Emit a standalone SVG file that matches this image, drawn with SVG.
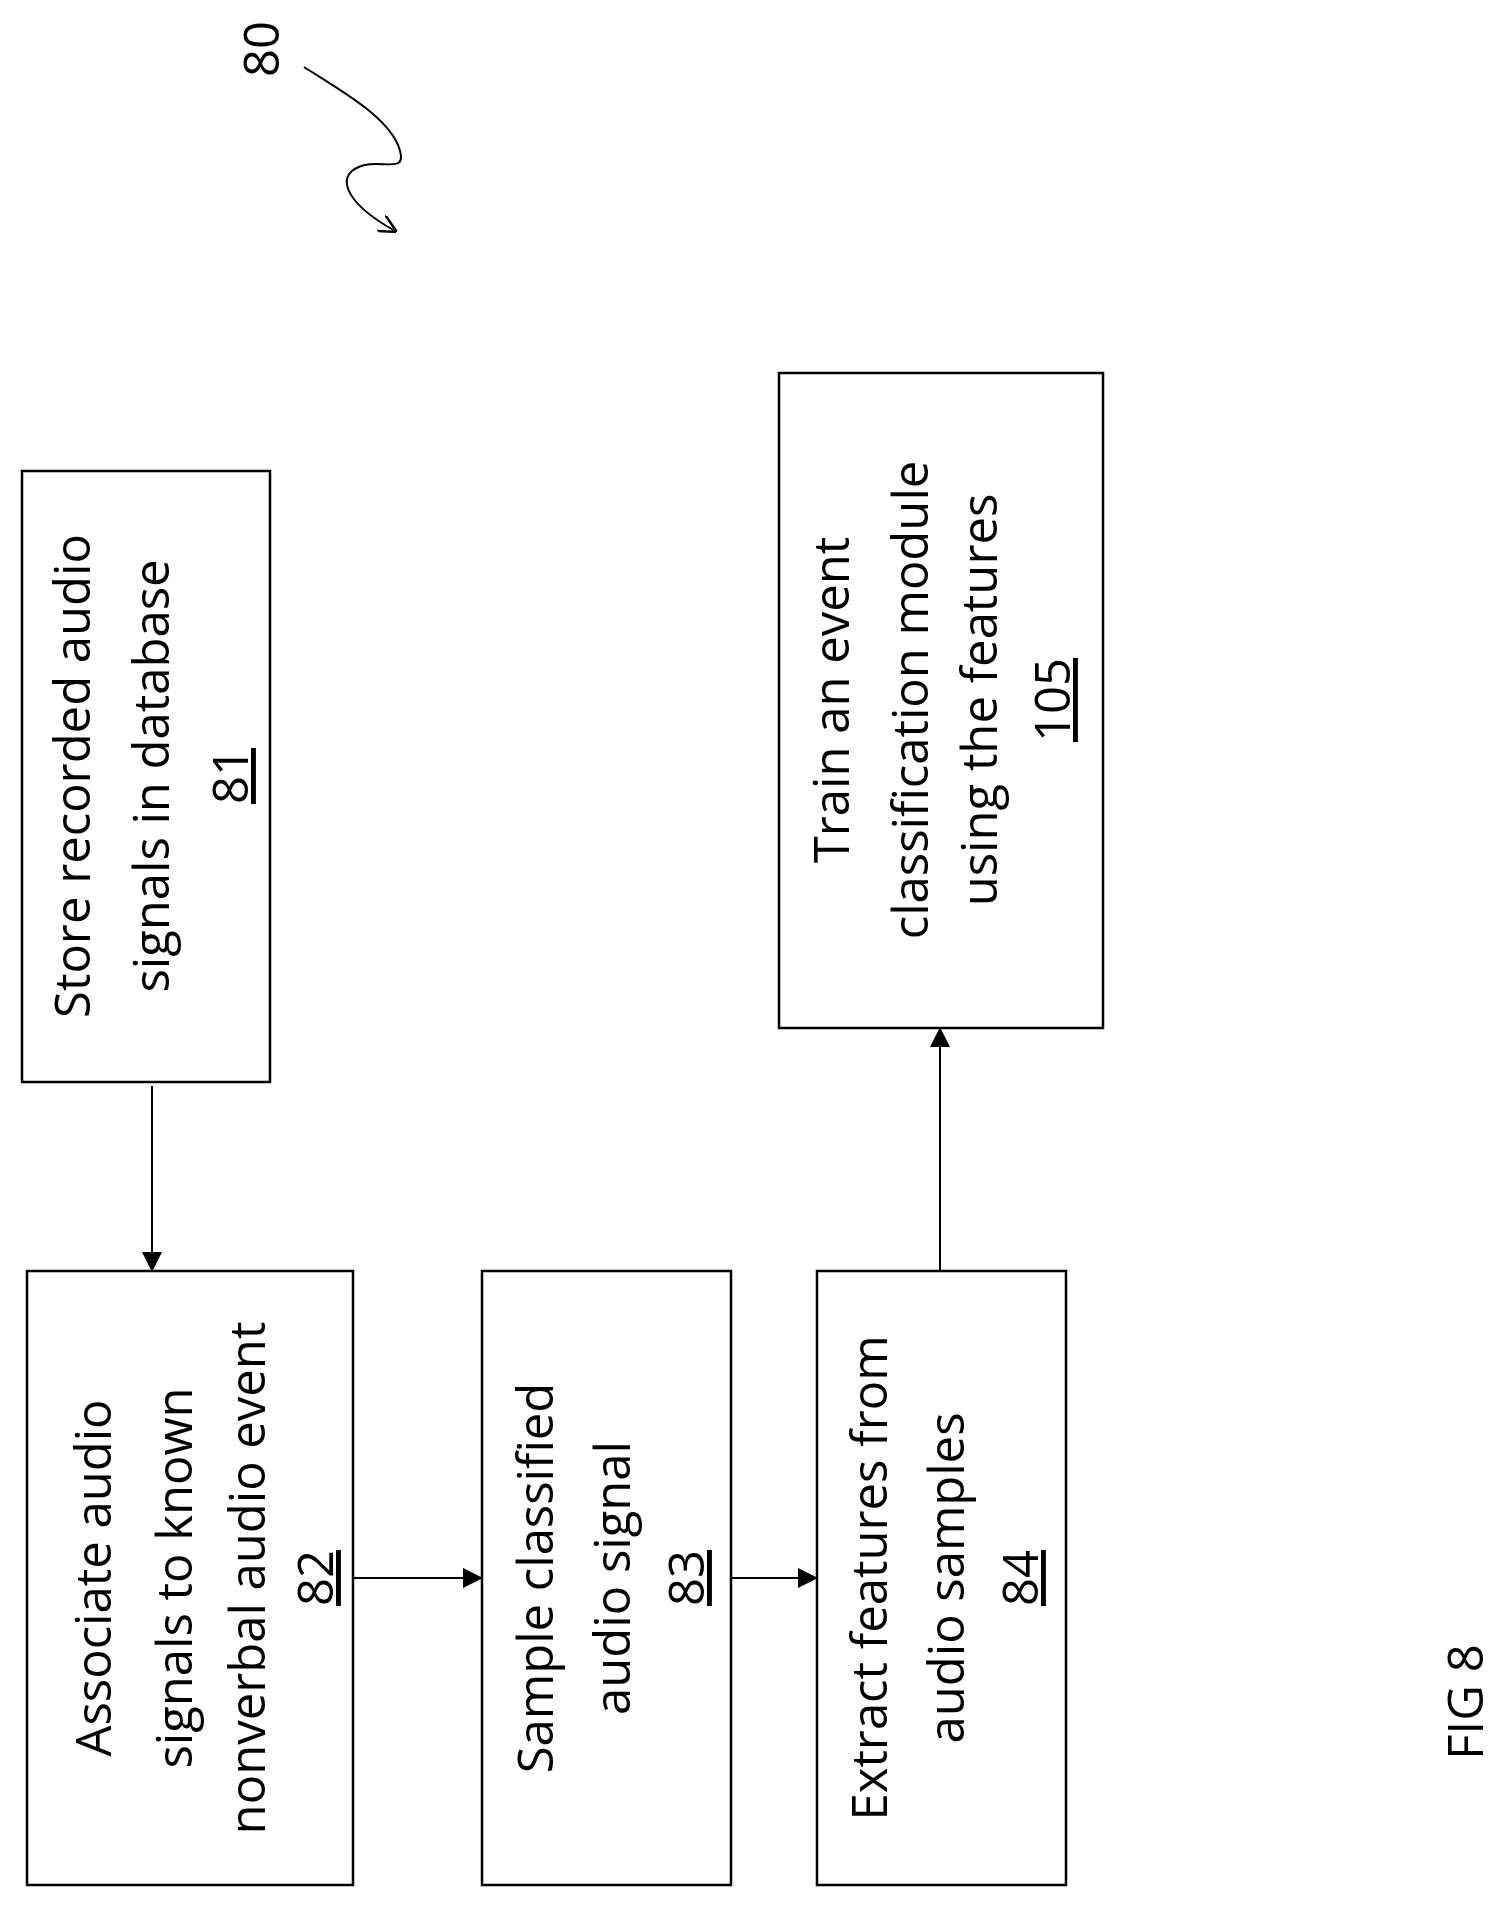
<svg xmlns="http://www.w3.org/2000/svg" width="1508" height="1915" viewBox="0 0 1508 1915">
<style>
.b{fill:#fff;stroke:#000;stroke-width:2.5}
text{font-family:"Open Sans","Liberation Sans",sans-serif;font-size:49px;text-anchor:middle;fill:#000}
.u{text-decoration:underline}
.c{stroke:#000;stroke-width:2;fill:none}
</style>
<defs><marker id="a" markerWidth="18" markerHeight="18" refX="16" refY="9" orient="auto" markerUnits="userSpaceOnUse" viewBox="0 0 18 18"><path d="M0,0L18,9L0,18" fill="none" stroke="#000" stroke-width="2.5"/></marker>
<marker id="a2" markerWidth="20" markerHeight="20" refX="18" refY="10" orient="auto" markerUnits="userSpaceOnUse" viewBox="0 0 20 20"><path d="M0,0L20,10L0,20z" fill="#000"/></marker></defs>
<rect width="1508" height="1915" fill="#fff"/>
<g id="n81"><rect class="b" x="22" y="471" width="248" height="611"/>
<text transform="translate(90,776) rotate(-90)">Store recorded audio</text>
<text transform="translate(169,776) rotate(-90)">signals in database</text>
<text class="u" transform="translate(248,776) rotate(-90)">81</text></g>
<g id="n82"><rect class="b" x="27" y="1271" width="326" height="614"/>
<text transform="translate(111,1578) rotate(-90)">Associate audio</text>
<text transform="translate(192,1578) rotate(-90)">signals to known</text>
<text transform="translate(265,1578) rotate(-90)">nonverbal audio event</text>
<text class="u" transform="translate(333,1578) rotate(-90)">82</text></g>
<g id="n83"><rect class="b" x="482" y="1271" width="249" height="614"/>
<text transform="translate(553,1578) rotate(-90)">Sample classified</text>
<text transform="translate(630,1578) rotate(-90)">audio signal</text>
<text class="u" transform="translate(704,1578) rotate(-90)">83</text></g>
<g id="n84"><rect class="b" x="817" y="1271" width="249" height="614"/>
<text transform="translate(887,1578) rotate(-90)">Extract features from</text>
<text transform="translate(964,1578) rotate(-90)">audio samples</text>
<text class="u" transform="translate(1038,1578) rotate(-90)">84</text></g>
<g id="n105"><rect class="b" x="779" y="373" width="324" height="655"/>
<text transform="translate(849,700) rotate(-90)">Train an event</text>
<text transform="translate(928,700) rotate(-90)">classification module</text>
<text transform="translate(997,700) rotate(-90)">using the features</text>
<text class="u" transform="translate(1070,700) rotate(-90)">105</text></g>
<g id="connectors">
<line class="c" x1="152" y1="1086" x2="152" y2="1270" marker-end="url(#a2)"/>
<line class="c" x1="353" y1="1578" x2="481" y2="1578" marker-end="url(#a2)"/>
<line class="c" x1="731" y1="1578" x2="816" y2="1578" marker-end="url(#a2)"/>
<line class="c" x1="940" y1="1271" x2="940" y2="1029" marker-end="url(#a2)"/>
<path class="c" d="M304,67 C340,90 385,115 398,145 C410,175 385,160 365,165 C335,172 340,200 395,231" marker-end="url(#a)"/>
</g>
<text transform="translate(279,49) rotate(-90)">80</text>
<text transform="translate(1483,1702) rotate(-90)">FIG 8</text>
</svg>
